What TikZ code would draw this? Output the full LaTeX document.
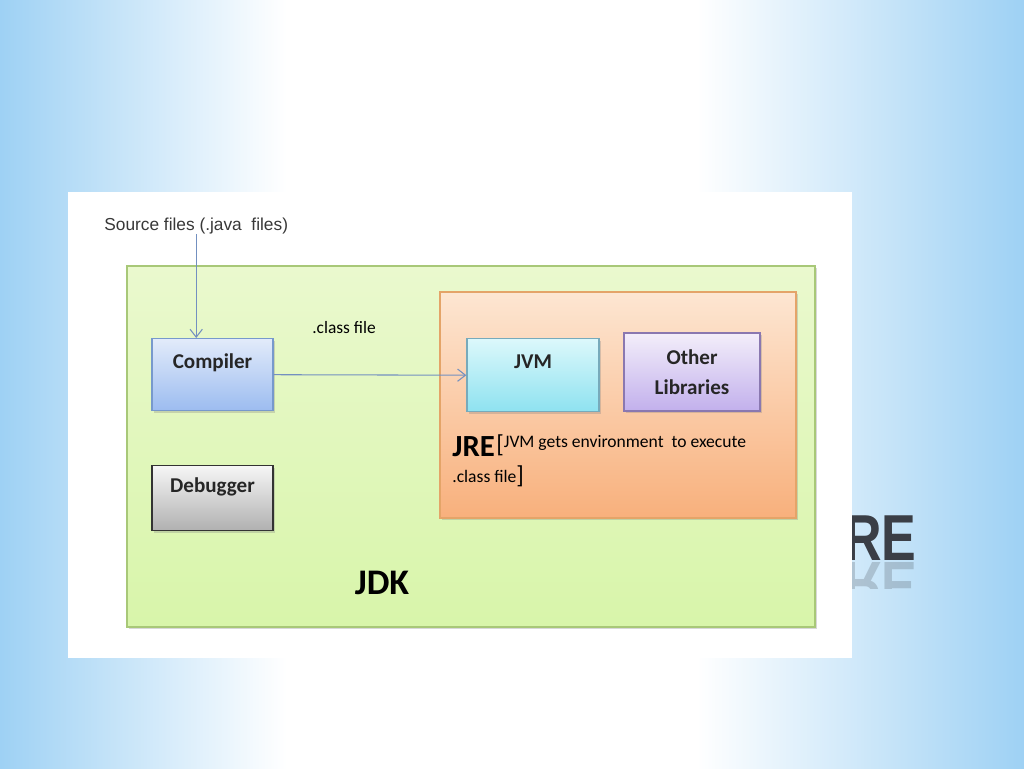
\documentclass[tikz,border=0pt]{standalone}
\usepackage{fontspec}
\setmainfont{Carlito}
\newfontfamily\arialfont{Liberation Sans}
\usetikzlibrary{arrows.meta, shadows, fadings}
\definecolor{bgblue}{HTML}{9ED1F4}
\definecolor{arrowblue}{HTML}{7390C0}
\definecolor{titlegray}{HTML}{3A3E46}
\definecolor{jdkline}{HTML}{A8C878}
\definecolor{jdktop}{HTML}{EAF9CE}
\definecolor{jdkbot}{HTML}{D8F5AA}
\definecolor{jreline}{HTML}{E4A468}
\definecolor{jretop}{HTML}{FDE6D2}
\definecolor{jrebot}{HTML}{F8B07C}
\definecolor{compline}{HTML}{7799CC}
\definecolor{comptop}{HTML}{E2EBFA}
\definecolor{compbot}{HTML}{9CBCF0}
\definecolor{debugtop}{HTML}{F6F6F6}
\definecolor{debugbot}{HTML}{B0B0B0}
\definecolor{jvmline}{HTML}{77AABB}
\definecolor{jvmtop}{HTML}{DCF8FB}
\definecolor{jvmbot}{HTML}{8EE2F0}
\definecolor{libline}{HTML}{8A78B0}
\definecolor{libtop}{HTML}{F3EEFA}
\definecolor{libbot}{HTML}{C2B0EC}
% path box goes from 25bp to 75bp
\pgfdeclarehorizontalshading{slidebg}{100bp}{color(0bp)=(bgblue); color(25bp)=(bgblue);
    color(39bp)=(white); color(59bp)=(white); color(75bp)=(bgblue); color(100bp)=(bgblue)}
\tikzfading[name=lightband, top color=transparent!100, middle color=transparent!45,
    bottom color=transparent!100]

\begin{document}
\begin{tikzpicture}[x=0.02cm, y=-0.02cm, >={Straight Barb[length=4.5pt, width=7pt]},
    box/.style={draw, line width=0.8pt, inner sep=0pt,
        drop shadow={shadow xshift=1.2pt, shadow yshift=-1.2pt, opacity=0.3}},
    boxtext/.style={font=\bfseries\fontsize{12}{17}\selectfont, text=black!85},
    flow/.style={->, draw=arrowblue, line width=0.6pt},
    titletext/.style={anchor=base east, inner sep=0pt, text=titlegray,
        font=\arialfont\bfseries\fontsize{37}{40}\selectfont}]
    \useasboundingbox (0,0) rectangle (1024,768);
    % slide background and title
    \shade[shading=slidebg] (0,0) rectangle (1024,768);
    \fill[white, path fading=lightband] (0,470) rectangle (1024,560);
    \node[titletext] (title) at (917,560) {\scalebox{0.8}[1]{RE}};
    \begin{scope}
        \clip (830,562) rectangle (930,588);
        \node[titletext, opacity=0.22] (titlerefl) at (917,562) {\scalebox{0.8}[-1]{RE}};
    \end{scope}
    \fill[white] (68,192) rectangle (852,658); % picture
    % JDK and JRE
    \node[box, draw=jdkline, top color=jdktop, bottom color=jdkbot,
        minimum width=13.76cm, minimum height=7.22cm] (jdk) at (471,446.5) {};
    \node[box, draw=jreline, top color=jretop, bottom color=jrebot,
        minimum width=7.12cm, minimum height=4.52cm] (jre) at (618,405) {};
    % tools
    \node[box, boxtext, draw=compline, top color=comptop, bottom color=compbot,
        anchor=north, minimum width=2.42cm, text height=0.60cm, text depth=0.84cm]
        (comp) at (212.5,338) {Compiler};
    \node[box, boxtext, draw=black!80, top color=debugtop, bottom color=debugbot,
        anchor=north, minimum width=2.42cm, text height=0.54cm, text depth=0.76cm]
        (debug) at (212.5,465) {Debugger};
    \node[box, boxtext, draw=jvmline, top color=jvmtop, bottom color=jvmbot,
        anchor=north, minimum width=2.64cm, text height=0.59cm, text depth=0.87cm]
        (jvm) at (533,338) {JVM};
    \node[box, boxtext, draw=libline, top color=libtop, bottom color=libbot,
        minimum width=2.72cm, minimum height=1.56cm, align=center]
        (otherlib) at (692,372) {Other\\Libraries};
    % labels
    \node[anchor=base west, inner sep=0pt, text=black!78,
        font=\arialfont\fontsize{9.85}{12}\selectfont] (src) at (104,230)
        {Source files (.java\ \ files)};
    \node[anchor=base west, inner sep=0pt, font=\fontsize{9.9}{12}\selectfont]
        (clsfile) at (312,333) {.class file};
    \node[anchor=base west, inner sep=0pt, font=\bfseries\fontsize{17.5}{20}\selectfont]
        (jrename) at (452,456) {JRE};
    \node[anchor=base west, inner sep=0pt, font=\fontsize{10}{12}\selectfont]
        (jrenote) at (496,447)
        {\raisebox{-3.2pt}{\fontsize{14}{14}\selectfont[}JVM gets environment\ \ to execute};
    \node[anchor=base west, inner sep=0pt, font=\fontsize{10}{12}\selectfont]
        (jrenoteb) at (452,482) {.class file\raisebox{-0.8pt}{\fontsize{14}{14}\selectfont]}};
    \node[anchor=base, inner sep=0pt, font=\bfseries\fontsize{20.5}{24}\selectfont]
        (jdkname) at (382,594) {JDK};
    % arrows
    \draw[flow] (src.south) -- (src.south |- comp.north);
    \draw[flow] (comp.east) -- (jvm.west);
\end{tikzpicture}
\end{document}
